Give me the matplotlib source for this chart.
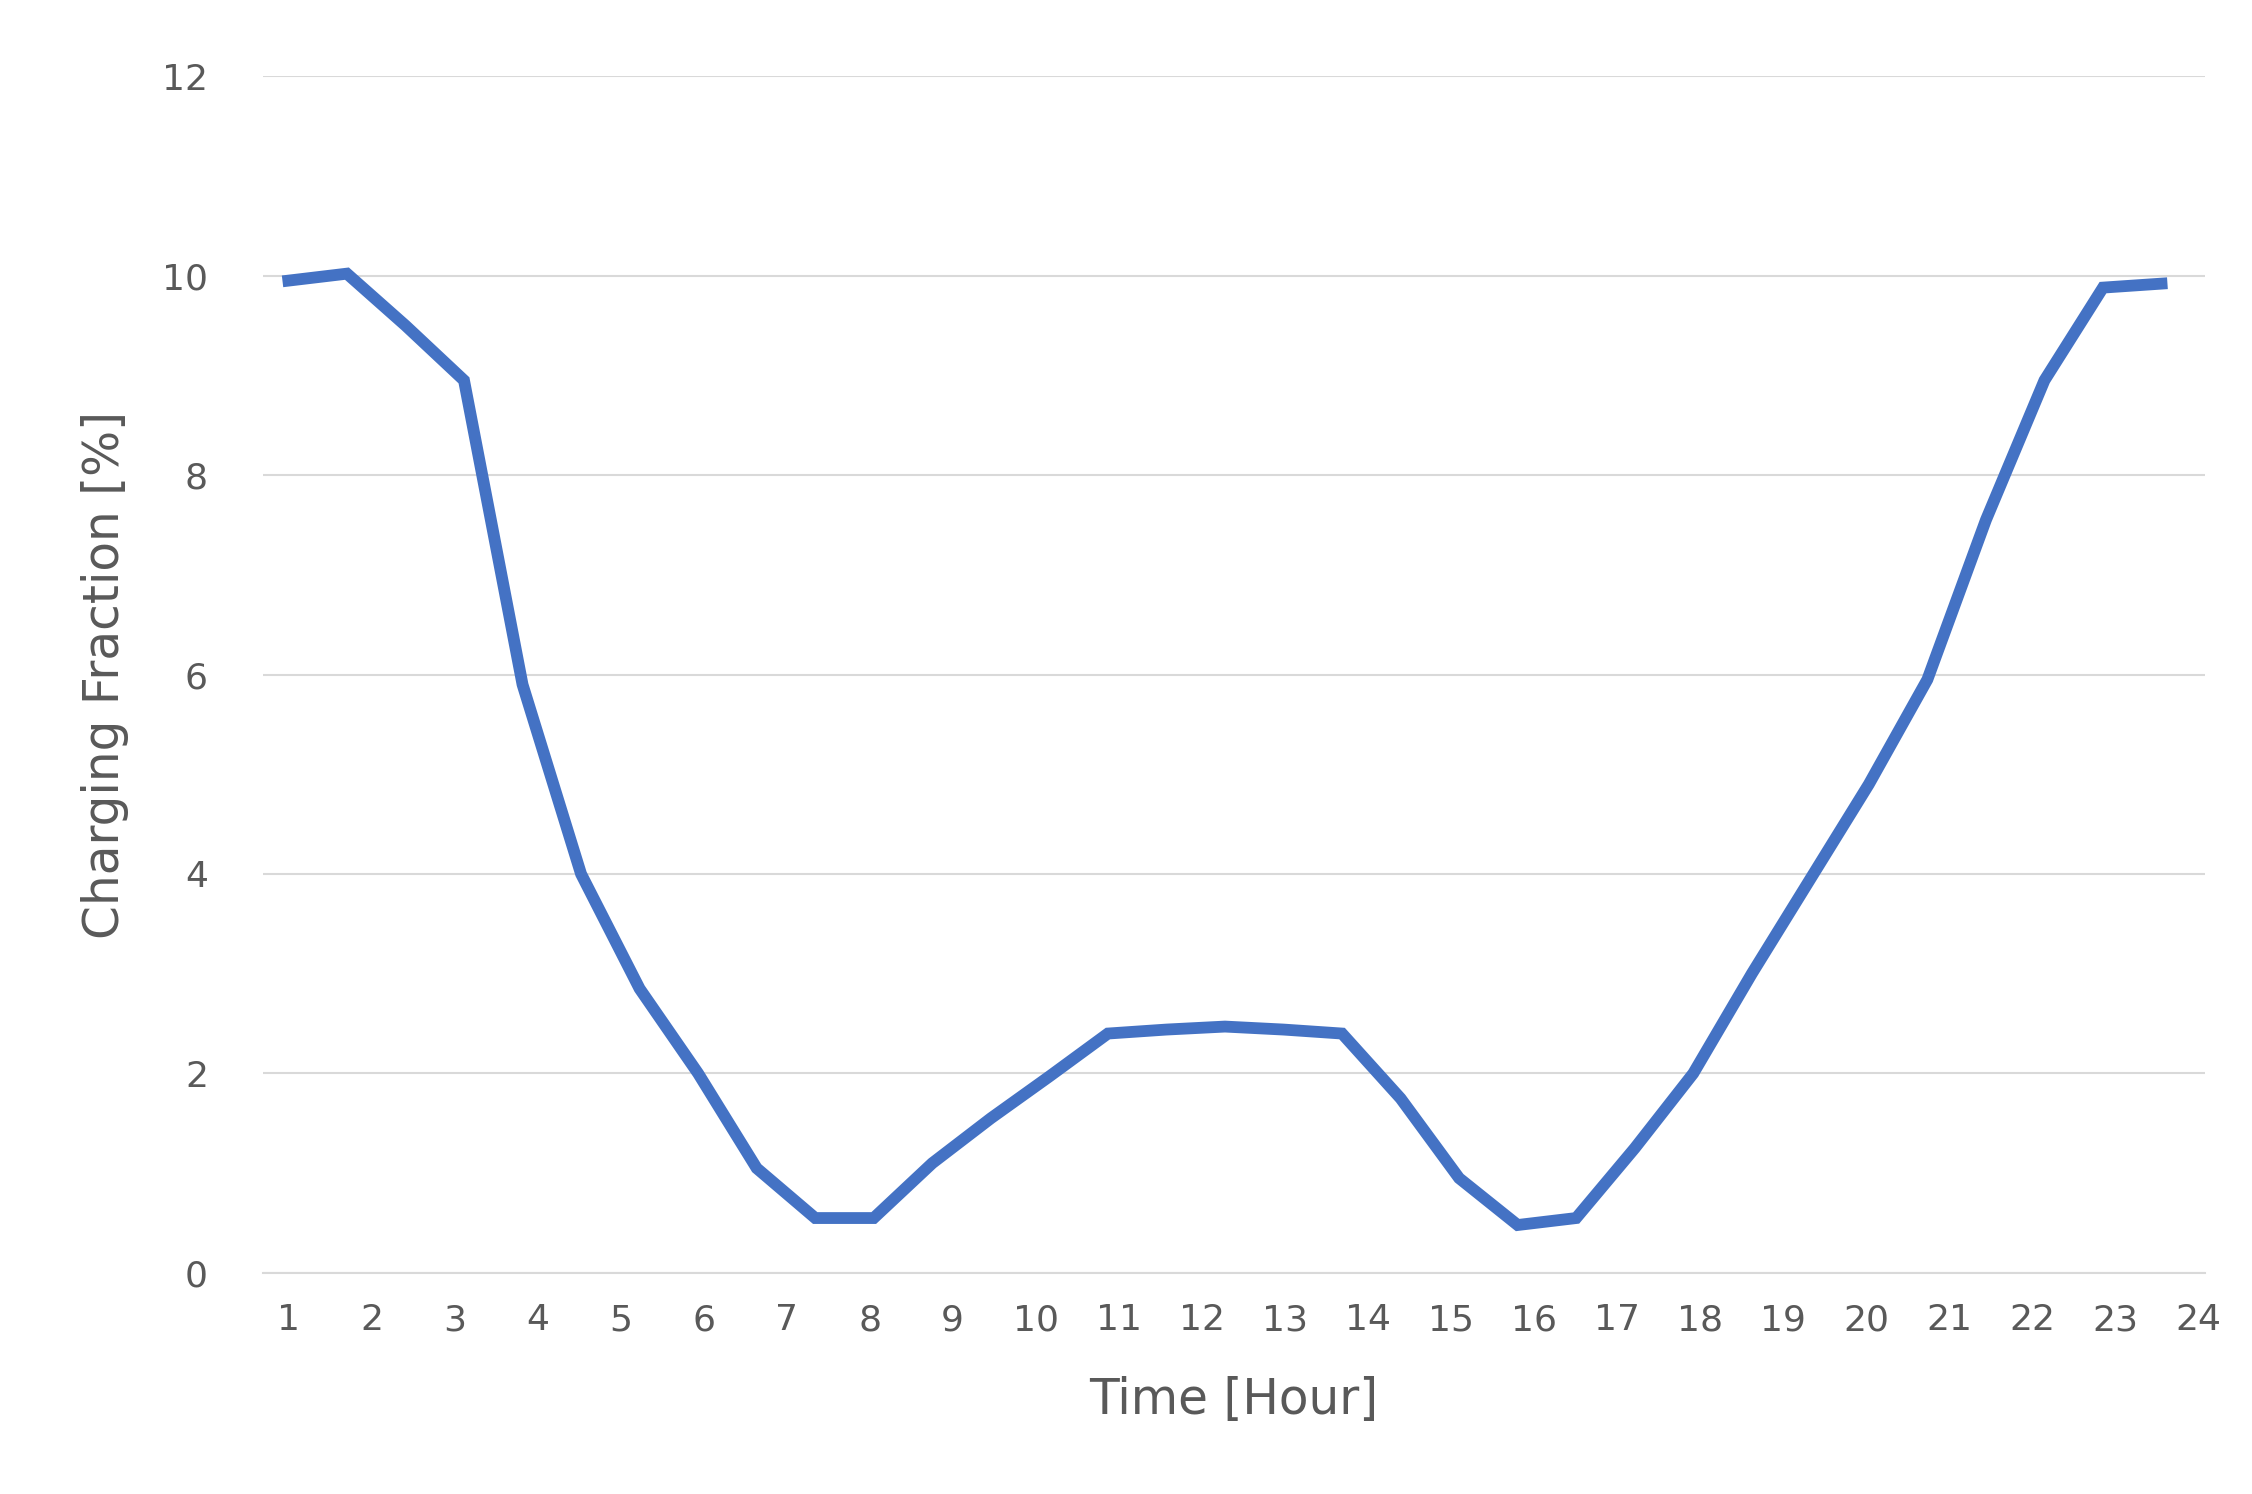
import numpy as np
import matplotlib.pyplot as plt

# time in hours (points every ~42 minutes), charging fraction in %
hours = [1 + i * 0.705 for i in range(33)]
fraction = [9.95, 10.02, 9.5, 8.95, 5.9, 4.0, 2.85, 2.0, 1.05, 0.55, 0.55,
            1.1, 1.55, 1.97, 2.4, 2.44, 2.47, 2.44, 2.4, 1.75, 0.95, 0.48,
            0.55, 1.25, 2.0, 3.0, 3.95, 4.9, 5.95, 7.55, 8.95, 9.88, 9.92]
xticks = list(range(1, 25))
yticks = [0, 2, 4, 6, 8, 10, 12]

fig = plt.figure(figsize=(22.52, 14.94), dpi=100)
ax = fig.add_axes([0.117, 0.148, 0.862, 0.801])
ax.plot(hours, fraction, color='#4472C4', lw=8.5, solid_joinstyle='miter')

ax.set_xlim(0.7, 24.08)
ax.set_ylim(0, 12)
ax.set_xticks(xticks)
ax.set_yticks(yticks)
ax.grid(axis='y', color='#d9d9d9', lw=1.5)
ax.set_axisbelow(True)
for s in ['top', 'right', 'left']:
    ax.spines[s].set_visible(False)
ax.spines['bottom'].set_color('#d9d9d9')
ax.spines['bottom'].set_linewidth(1.5)
ax.tick_params(length=0, labelsize=26, colors='#595959', pad=22)
ax.tick_params(axis='y', pad=40)
ax.set_xlabel('Time [Hour]', fontsize=35, color='#595959', labelpad=28)
ax.set_ylabel('Charging Fraction [%]', fontsize=35, color='#595959', labelpad=24)

fig.savefig('out.png')
